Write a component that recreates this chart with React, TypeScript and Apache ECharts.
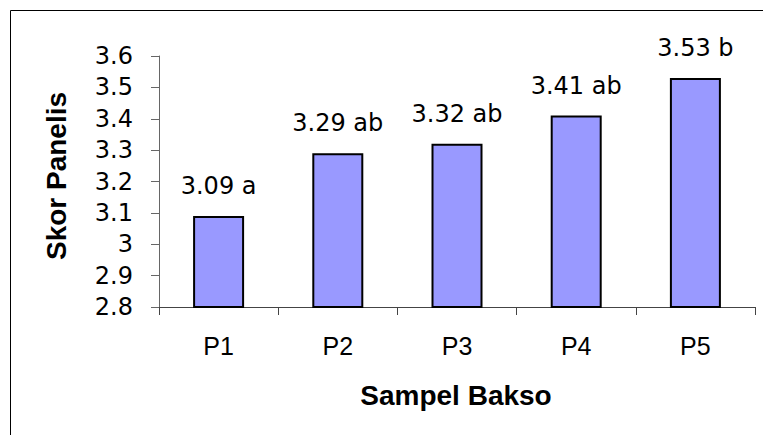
import React, { useEffect, useRef } from "react";
import * as echarts from "echarts";

const categories = ["P1", "P2", "P3", "P4", "P5"];
const values = [3.09, 3.29, 3.32, 3.41, 3.53];
const letters = ["a", "ab", "ab", "ab", "b"];
const yTitle = "Skor Panelis";
const xTitle = "Sampel Bakso";

const FONT = "'Liberation Sans', Arial, sans-serif";
const NUM_FONT = "'DejaVu Sans', 'Liberation Sans', sans-serif";

export default function App() {
  const ref = useRef<HTMLDivElement>(null);
  useEffect(() => {
    if (!ref.current) return;
    const chart = echarts.init(ref.current, null, { renderer: "svg" });
    chart.setOption({
      animation: false,
      backgroundColor: "#ffffff",
      textStyle: { fontFamily: FONT },
      graphic: [
        {
          type: "polyline",
          shape: { points: [[10.5, 440], [10.5, 10.5], [770, 10.5]] },
          style: { stroke: "#000", lineWidth: 1, fill: "none" },
          silent: true,
        },
        {
          type: "text",
          x: 456,
          y: 395,
          style: {
            text: xTitle,
            font: `bold 28px ${FONT}`,
            fill: "#000",
            align: "center",
            verticalAlign: "middle",
          },
        },
        {
          type: "text",
          x: 56,
          y: 176,
          rotation: Math.PI / 2,
          style: {
            text: yTitle,
            font: `bold 28px ${FONT}`,
            fill: "#000",
            align: "center",
            verticalAlign: "middle",
          },
        },
      ],
      grid: { left: 159, right: 8, top: 56, bottom: 128, containLabel: false },
      xAxis: {
        type: "category",
        data: categories,
        axisLine: { show: true, lineStyle: { color: "#444", width: 1 } },
        axisTick: { show: true, alignWithLabel: false, length: 8, lineStyle: { color: "#444" } },
        axisLabel: { color: "#000", fontSize: 25, fontFamily: FONT, margin: 26 },
      },
      yAxis: {
        type: "value",
        min: 2.8,
        max: 3.6,
        interval: 0.1,
        axisLine: { show: true, lineStyle: { color: "#666", width: 1 } },
        axisTick: { show: true, length: 8, lineStyle: { color: "#666" } },
        splitLine: { show: false },
        axisLabel: {
          color: "#000",
          fontSize: 24,
          fontFamily: NUM_FONT,
          margin: 26,
          formatter: (v: number) => String(Math.round(v * 10) / 10),
        },
      },
      series: [
        {
          type: "bar",
          data: values,
          barWidth: 51,
          itemStyle: { color: "#9999FF", borderColor: "#000", borderWidth: 2 },
          label: {
            show: true,
            position: "top",
            distance: 18,
            color: "#000",
            fontSize: 24,
            fontFamily: NUM_FONT,
            formatter: (p: any) => `${values[p.dataIndex].toFixed(2)} ${letters[p.dataIndex]}`,
          },
        },
      ],
    });
    return () => chart.dispose();
  }, []);
  return (
    <div
      ref={ref}
      style={{ position: "fixed", left: 0, top: 0, width: 763, height: 435 }}
    />
  );
}
